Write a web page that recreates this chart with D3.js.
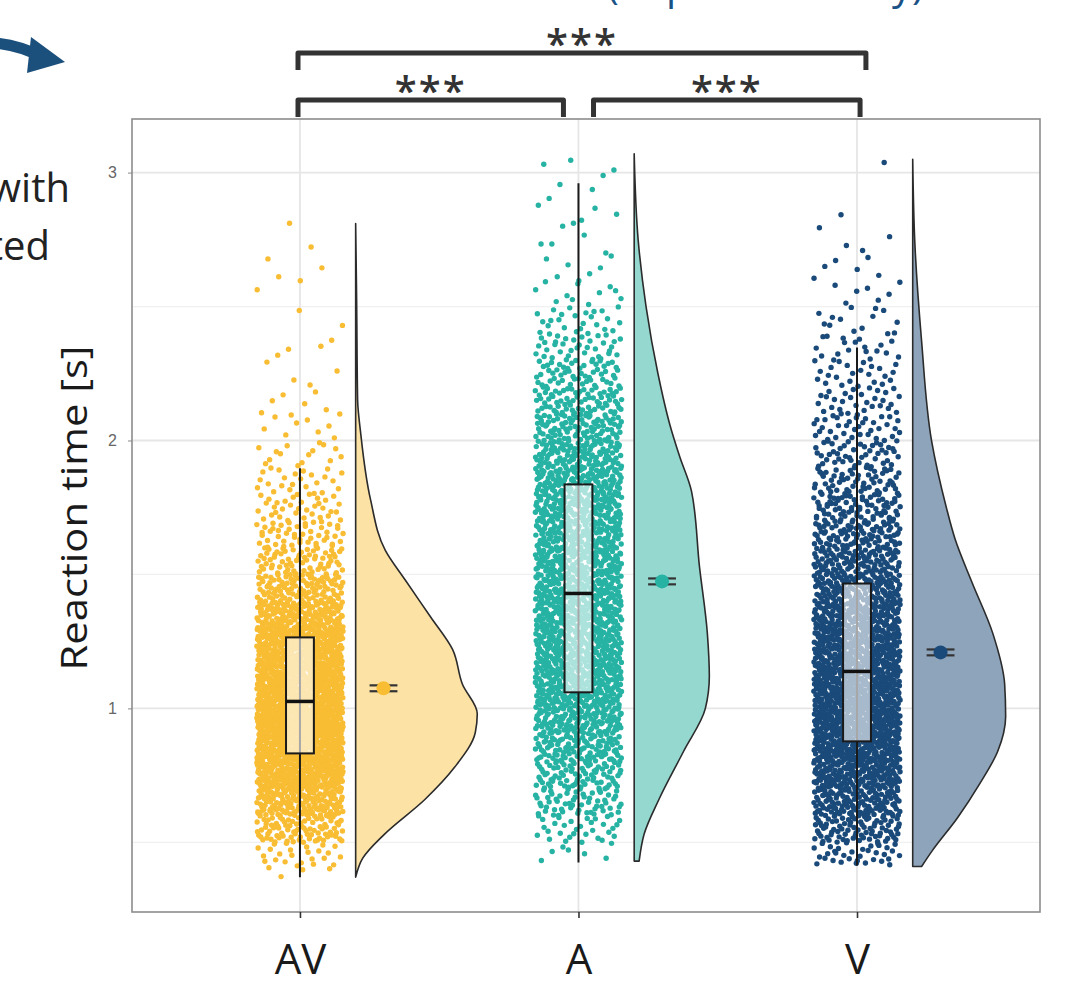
<!DOCTYPE html>
<html>
<head>
<meta charset="utf-8">
<script src="https://cdn.jsdelivr.net/npm/d3@7"></script>
<style>
  body { margin: 0; background: #fff; }
  svg { display: block; }
</style>
</head>
<body>
<svg id="chart" width="1082" height="982"></svg>
<script>
/* raincloud plot: reaction time per condition */

var groups = ['AV', 'A', 'V'];
var pointColors = ['#F8BD33', '#27B3A4', '#1A4A7A'];
var violinFills = ['#FCE2A5', '#95D8D0', '#8DA4BB'];

var yTicks = [1, 2, 3];
var yMinorTicks = [0.5, 1.5, 2.5];

// number of trials per 0.1 s bin, first bin starts at 0.3 s
var binStart = 0.3, binStep = 0.1;
var countsAV = [2, 26, 88, 165, 220, 253, 268, 246, 224, 198, 150, 103, 68, 48, 35, 24, 15, 10, 6, 4, 4, 2, 2, 3, 1, 1];
var countsA  = [0, 7, 31, 59, 80, 105, 128, 150, 154, 152, 147, 143, 139, 134, 130, 135, 115, 95, 75, 55, 38, 24, 12, 6, 5, 5, 4, 3];
var countsV  = [0, 35, 84, 128, 163, 194, 205, 202, 194, 176, 154, 134, 110, 92, 75, 59, 46, 37, 29, 24, 20, 13, 7, 6, 4, 1, 0, 1];
var rtMin = [0.37, 0.425, 0.414];
var rtMax = [2.82, 3.065, 3.05];

// boxplot / mean summaries
var boxLower  = [0.37, 0.425, 0.414];
var boxQ1     = [0.832, 1.06, 0.877];
var boxMedian = [1.026, 1.429, 1.138];
var boxQ3     = [1.265, 1.836, 1.466];
var boxUpper  = [1.896, 2.96, 2.347];
var meanRT    = [1.075, 1.474, 1.209];
var meanSE    = [0.011, 0.011, 0.011];

// half violin: density estimate at given reaction times
var violinRtAV   = [0.37, 0.44, 0.53, 0.66, 0.78, 0.91, 0.98, 1.09, 1.22, 1.34, 1.48, 1.59, 1.78, 2.03, 2.15, 2.52, 2.81];
var violinDensAV = [0, 0.07, 0.29, 0.70, 1.00, 1.21, 1.23, 1.08, 0.98, 0.76, 0.50, 0.30, 0.15, 0.05, 0.02, 0.01, 0];
var violinRtA    = [0.43, 0.53, 0.66, 0.84, 1.00, 1.12, 1.28, 1.53, 1.81, 1.94, 2.06, 2.25, 2.50, 2.75, 3.07];
var violinDensA  = [0.05, 0.10, 0.25, 0.50, 0.72, 0.76, 0.74, 0.66, 0.58, 0.46, 0.36, 0.24, 0.12, 0.04, 0];
var violinRtV    = [0.41, 0.47, 0.59, 0.72, 0.84, 0.97, 1.09, 1.28, 1.47, 1.63, 1.75, 2.00, 2.37, 2.75, 3.05];
var violinDensV  = [0.09, 0.20, 0.45, 0.68, 0.86, 0.94, 0.93, 0.81, 0.60, 0.43, 0.34, 0.19, 0.09, 0.02, 0];

// significance brackets
var compFrom  = ['AV', 'A', 'AV'];
var compTo    = ['A', 'V', 'V'];
var compLabel = ['***', '***', '***'];

var counts = [countsAV, countsA, countsV];
var violinRt = [violinRtAV, violinRtA, violinRtV];
var violinDens = [violinDensAV, violinDensA, violinDensV];

var svg = d3.select('#chart');
var panel = { left: 132, right: 1040, top: 119, bottom: 912 };

var x = d3.scaleLinear().domain([0.397, 3.657]).range([panel.left, panel.right]);
var y = d3.scaleLinear().domain([0.24, 3.2]).range([panel.bottom, panel.top]);
var pos = function(g) { return groups.indexOf(g) + 1; };

var jitterWidth = 0.155, violinNudge = 0.2, meanNudge = 0.3, boxWidth = 0.1;
var densityWidth = 0.355; // category units per density unit

/* surrounding slide bits (cropped) */
svg.append('text')
   .attr('x', 607).attr('y', -1)
   .attr('font-family', 'Open Sans').attr('font-size', 40)
   .attr('fill', '#1B5286')
   .text('(Repeated Study)');

svg.append('path')
   .attr('d', 'M -6 43 Q 18 45 40 56')
   .attr('fill', 'none').attr('stroke', '#1B4F7C').attr('stroke-width', 11);
svg.append('path')
   .attr('d', 'M 31 37 L 65 62 L 27 73 Z')
   .attr('fill', '#1B4F7C');

svg.append('text').attr('x', 70).attr('y', 202)
   .attr('text-anchor', 'end').attr('font-family', 'Open Sans').attr('font-size', 40)
   .attr('fill', '#222').text('with');
svg.append('text').attr('x', 50).attr('y', 260)
   .attr('text-anchor', 'end').attr('font-family', 'Open Sans').attr('font-size', 40)
   .attr('fill', '#222').text('ted');

/* grid */
var grid = svg.append('g');
grid.selectAll('.minor').data(yMinorTicks).enter().append('line')
    .attr('x1', panel.left).attr('x2', panel.right)
    .attr('y1', function(d) { return y(d); }).attr('y2', function(d) { return y(d); })
    .attr('stroke', '#f0f0f0').attr('stroke-width', 1.2);
grid.selectAll('.major').data(yTicks).enter().append('line')
    .attr('x1', panel.left).attr('x2', panel.right)
    .attr('y1', function(d) { return y(d); }).attr('y2', function(d) { return y(d); })
    .attr('stroke', '#e6e6e6').attr('stroke-width', 1.8);
grid.selectAll('.vmajor').data(groups).enter().append('line')
    .attr('x1', function(d) { return x(pos(d)); }).attr('x2', function(d) { return x(pos(d)); })
    .attr('y1', panel.top).attr('y2', panel.bottom)
    .attr('stroke', '#e6e6e6').attr('stroke-width', 1.8);

/* jittered raw points: halton sequence through the binned distribution */
function halton(i, b) {
    var f = 1, r = 0;
    while (i > 0) { f = f / b; r += f * (i % b); i = Math.floor(i / b); }
    return r;
}

groups.forEach(function(g, gi) {
    var cnt = counts[gi];
    var total = d3.sum(cnt);
    var cum = d3.cumsum(cnt);
    var pts = [];
    for (var k = 0; k < total; k++) {
        var t = (k + 0.5) / total;                 // stratified through the distribution
        var target = t * total;
        var bi = d3.bisectRight(cum, target);
        var before = bi > 0 ? cum[bi - 1] : 0;
        var lo = Math.max(binStart + bi * binStep, rtMin[gi]);
        var hi = Math.min(binStart + (bi + 1) * binStep, rtMax[gi]);
        var frac = halton(k + 17 + gi * 53, 3);
        var rt = lo + ((before + frac * cnt[bi]) - before) / cnt[bi] * (hi - lo);
        var u = halton(k + 17 + gi * 53, 2);
        pts.push({ jx: (u - 0.5) * 2 * jitterWidth, rt: rt });
    }
    svg.append('g').selectAll('circle').data(pts).enter().append('circle')
       .attr('cx', function(d) { return x(gi + 1 + d.jx); })
       .attr('cy', function(d) { return y(d.rt); })
       .attr('r', 2.7)
       .attr('fill', pointColors[gi]);
});

/* boxplots */
groups.forEach(function(g, gi) {
    var c = gi + 1;
    var bx = svg.append('g');
    bx.append('line')
      .attr('x1', x(c)).attr('x2', x(c))
      .attr('y1', y(boxLower[gi])).attr('y2', y(boxUpper[gi]))
      .attr('stroke', '#1a1a1a').attr('stroke-width', 2);
    bx.append('rect')
      .attr('x', x(c - boxWidth / 2)).attr('width', x(c + boxWidth / 2) - x(c - boxWidth / 2))
      .attr('y', y(boxQ3[gi])).attr('height', y(boxQ1[gi]) - y(boxQ3[gi]))
      .attr('fill', '#ffffff').attr('fill-opacity', 0.62)
      .attr('stroke', '#1a1a1a').attr('stroke-width', 2);
    bx.append('line')
      .attr('x1', x(c - boxWidth / 2)).attr('x2', x(c + boxWidth / 2))
      .attr('y1', y(boxMedian[gi])).attr('y2', y(boxMedian[gi]))
      .attr('stroke', '#111').attr('stroke-width', 3.5);
});

/* half violins */
groups.forEach(function(g, gi) {
    var c = gi + 1 + violinNudge;
    var vd = violinRt[gi].map(function(r, i) { return [r, violinDens[gi][i]]; });
    var area = d3.area()
        .curve(d3.curveMonotoneY)
        .y(function(d) { return y(d[0]); })
        .x0(x(c))
        .x1(function(d) { return x(c + d[1] * densityWidth); });
    svg.append('path').datum(vd)
       .attr('d', area)
       .attr('fill', violinFills[gi])
       .attr('stroke', '#2b2b2b').attr('stroke-width', 1.6)
       .attr('stroke-linejoin', 'round');
});

/* mean with standard error */
groups.forEach(function(g, gi) {
    var c = gi + 1 + meanNudge;
    var half = 0.05;
    var m = svg.append('g');
    [meanRT[gi] - meanSE[gi], meanRT[gi] + meanSE[gi]].forEach(function(v) {
        m.append('line')
         .attr('x1', x(c - half)).attr('x2', x(c + half))
         .attr('y1', y(v)).attr('y2', y(v))
         .attr('stroke', '#333').attr('stroke-width', 2.2);
    });
    m.append('circle')
     .attr('cx', x(c)).attr('cy', y(meanRT[gi]))
     .attr('r', 7).attr('fill', pointColors[gi]);
});

/* panel border + axes */
svg.append('rect')
   .attr('x', panel.left).attr('y', panel.top)
   .attr('width', panel.right - panel.left).attr('height', panel.bottom - panel.top)
   .attr('fill', 'none').attr('stroke', '#8c8c8c').attr('stroke-width', 1.6);

var yAxis = svg.append('g').attr('transform', 'translate(' + panel.left + ',0)')
    .call(d3.axisLeft(y).tickValues(yTicks).tickSize(4).tickPadding(11).tickFormat(d3.format('d')));
yAxis.select('.domain').remove();
yAxis.selectAll('line').attr('stroke', '#888');
yAxis.selectAll('text').attr('font-family', 'Liberation Sans, Arial').attr('font-size', 16).attr('fill', '#666');

var xAxis = svg.append('g').attr('transform', 'translate(0,' + panel.bottom + ')')
    .call(d3.axisBottom(x).tickValues([1, 2, 3]).tickSize(6).tickPadding(26)
            .tickFormat(function(d) { return groups[d - 1]; }));
xAxis.select('.domain').remove();
xAxis.selectAll('line').attr('stroke', '#333').attr('stroke-width', 1.6);
xAxis.selectAll('text').attr('font-family', 'Open Sans').attr('font-size', 42).attr('fill', '#1a1a1a');

svg.append('text')
   .attr('transform', 'translate(87,508) rotate(-90)')
   .attr('text-anchor', 'middle')
   .attr('font-family', 'Open Sans').attr('font-size', 37)
   .attr('textLength', 325).attr('lengthAdjust', 'spacingAndGlyphs')
   .attr('fill', '#1a1a1a')
   .text('Reaction time [s]');

/* significance brackets */
var rowY = [100, 100, 53];
var ends = [[-0.007, -0.054], [0.054, 0.011], [-0.007, 0.032]];
compLabel.forEach(function(lab, i) {
    var x1 = x(pos(compFrom[i]) + ends[i][0]);
    var x2 = x(pos(compTo[i]) + ends[i][1]);
    var yy = rowY[i];
    svg.append('path')
       .attr('d', 'M' + x1 + ',' + (yy + 17) + 'V' + yy + 'H' + x2 + 'V' + (yy + 17))
       .attr('fill', 'none').attr('stroke', '#333').attr('stroke-width', 5)
       .attr('stroke-linejoin', 'round');
    svg.append('text')
       .attr('x', (x1 + x2) / 2).attr('y', yy + 5)
       .attr('text-anchor', 'middle')
       .attr('font-family', 'Open Sans').attr('font-weight', 600).attr('font-size', 40)
       .attr('letter-spacing', 2)
       .attr('fill', '#333')
       .text(lab);
});
</script>
</body>
</html>
